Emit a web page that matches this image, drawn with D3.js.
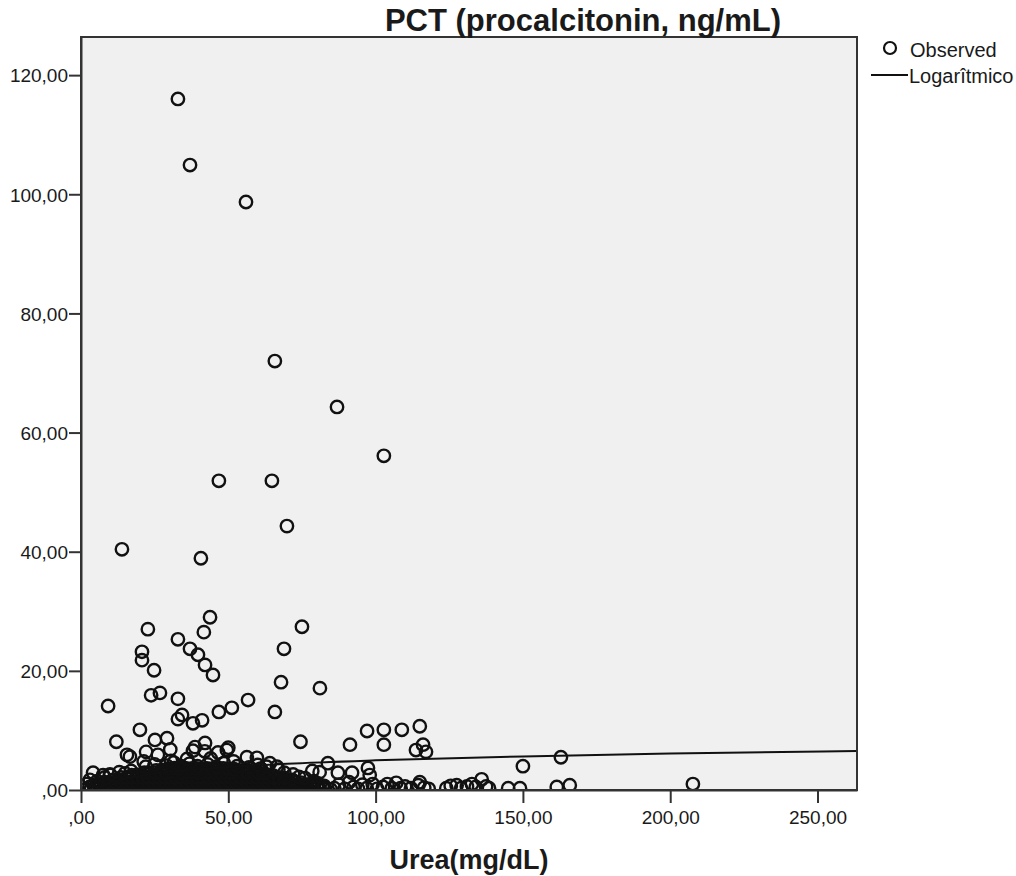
<!DOCTYPE html>
<html>
<head>
<meta charset="utf-8">
<script src="https://cdn.jsdelivr.net/npm/d3@7"></script>
<style>
  html, body { margin: 0; padding: 0; background: #fff; }
  svg { display: block; }
  text { font-family: "Liberation Sans", Arial, sans-serif; fill: #1a1a1a; }
</style>
</head>
<body>
<svg id="chart" width="1016" height="876"></svg>
<script>
// ---------------- DATA ----------------
const chartTitle = "PCT (procalcitonin, ng/mL)";
const xTitle = "Urea(mg/dL)";
const legendLabels = ["Observed", "Logarîtmico"];

const xTickValues = [0, 50, 100, 150, 200, 250];
const xTickLabels = [",00", "50,00", "100,00", "150,00", "200,00", "250,00"];
const yTickValues = [0, 20, 40, 60, 80, 100, 120];
const yTickLabels = [",00", "20,00", "40,00", "60,00", "80,00", "100,00", "120,00"];

// Observed points [urea, pct] — high values
const outlierPoints = [
  [32.9,116.0],[37.0,104.9],[56.0,98.7],[65.8,72.0],[86.9,64.3],[102.8,56.1],
  [46.8,51.9],[64.8,51.9],[69.9,44.3],[13.9,40.4],[40.7,38.9],[43.8,29.0],
  [22.7,27.0],[75.0,27.4],[41.7,26.5],[32.9,25.3],[20.7,23.2],[37.0,23.7],
  [68.9,23.7],[20.7,21.8],[39.7,22.7],[42.1,21.0],[24.8,20.1],[44.8,19.3],
  [26.8,16.3],[23.8,15.9],[32.9,15.3],[56.7,15.1],[67.9,18.1],[81.1,17.1],
  [9.2,14.1],[34.3,12.6],[32.9,11.9],[38.0,11.2],[41.1,11.7],[46.8,13.1],
  [51.2,13.8],[65.8,13.1],[20.0,10.1],[12.0,8.1],[74.5,8.1],[91.3,7.6],
  [97.1,9.9],[102.8,10.1],[102.8,7.6],[108.9,10.1],[115.0,10.7],[113.7,6.7],
  [116.1,7.6],[117.1,6.4]
];

// Observed points — moderate values above the dense mass
const midPoints = [
  [15.6,5.9],[16.6,5.6],[22.1,6.4],[25.1,8.4],[29.2,8.7],[30.3,6.8],[26.1,5.9],
  [38.7,7.2],[38.0,6.6],[42.1,7.9],[42.0,6.5],[46.5,6.3],[49.5,6.7],[50.0,7.1],
  [56.3,5.5],[59.7,5.4],[64.1,4.5],[66.5,3.9],[83.8,4.5],[81.0,3.0],[87.2,2.9],
  [92.0,2.9],[97.4,3.7],[98.0,2.5],[78.5,3.2],
  [22,3.9],[25,4.3],[29,4.1],[31.5,4.6],[34,4.0],[36.8,4.4],[39.5,4.0],[43,4.3],
  [46,3.9],[48.5,4.5],[53,4.0],[57,3.8],[61,3.6],[21.3,4.8],[30.5,4.9],[36,5.2],
  [44,5.3],[51.8,4.8],[60,4.2],[63,3.9],[67,3.4],[69,2.9],[72,2.6],[74,2.2],
  [76,2.0],[79,1.5],[80.5,1.1],[82.5,0.7],[8,2.1],[10,2.5],[4.1,2.9],[7.5,2.5],
  [9.8,2.6],[2.0,1.0],[3.0,1.7],[5.5,1.5],[15,2.8],[17,3.2],[13,3.0]
];

// Observed points — dense mass of low values (first set)
const densePoints = [
  [1.5,0.12],[3.35,0.08],[5.2,0.15],[7.05,0.1],[8.9,0.05],[10.75,0.14],[12.6,0.1],[14.45,0.18],
  [16.3,0.06],[18.15,0.12],[20.0,0.1],[21.85,0.16],[23.7,0.08],[25.55,0.12],[27.4,0.05],
  [29.25,0.15],[31.1,0.1],[32.95,0.18],[34.8,0.08],[36.65,0.12],[38.5,0.1],[40.35,0.15],
  [42.2,0.06],[44.05,0.12],[45.9,0.18],[47.75,0.1],[49.6,0.08],[51.45,0.15],[53.3,0.1],
  [55.15,0.12],[57.0,0.06],[58.85,0.16],[60.7,0.1],[62.55,0.12],[64.4,0.08],[66.25,0.15],
  [68.1,0.1],[69.95,0.05],[71.8,0.14],[73.65,0.1],[75.5,0.18],[77.35,0.08],[79.2,0.12],
  [81.05,0.1],[82.9,0.15],[84.75,0.08],
  [4.25,0.85],[6.1,0.9],[7.95,0.95],[9.8,0.85],[11.65,0.9],[13.5,0.95],[15.35,0.85],
  [17.2,0.92],[19.05,0.88],[20.9,0.95],[22.75,0.85],[24.6,0.9],[26.45,0.95],[28.3,0.88],
  [30.15,0.92],[32.0,0.85],[33.85,0.95],[35.7,0.9],[37.55,0.88],[39.4,0.94],[41.25,0.85],
  [43.1,0.9],[44.95,0.95],[46.8,0.86],[48.65,0.92],[50.5,0.9],[52.35,0.85],[54.2,0.95],
  [56.05,0.88],[57.9,0.9],[59.75,0.94],[61.6,0.85],[63.45,0.9],[65.3,0.95],[67.15,0.86],
  [69.0,0.92],[70.85,0.9],[72.7,0.85],[74.55,0.95],[76.4,0.88],[78.25,0.9],[80.1,0.85],
  [10.75,1.68],[12.6,1.72],[14.45,1.65],[16.3,1.75],[18.15,1.7],[20.0,1.66],[21.85,1.74],
  [23.7,1.7],[25.55,1.68],[27.4,1.75],[29.25,1.65],[31.1,1.72],[32.95,1.7],[34.8,1.74],
  [36.65,1.66],[38.5,1.7],[40.35,1.75],[42.2,1.68],[44.05,1.72],[45.9,1.65],[47.75,1.7],
  [49.6,1.74],[51.45,1.68],[53.3,1.72],[55.15,1.7],[57.0,1.65],[58.85,1.75],[60.7,1.7],
  [62.55,1.68],[64.4,1.72],[66.25,1.7],[68.1,1.66],[69.95,1.72],[71.8,1.68],
  [17.2,2.48],[19.05,2.52],[20.9,2.45],[22.75,2.55],[24.6,2.5],[26.45,2.46],[28.3,2.54],
  [30.15,2.5],[32.0,2.48],[33.85,2.55],[35.7,2.45],[37.55,2.52],[39.4,2.5],[41.25,2.54],
  [43.1,2.46],[44.95,2.5],[46.8,2.55],[48.65,2.48],[50.5,2.52],[52.35,2.45],[54.2,2.5],
  [56.05,2.54],[57.9,2.48],[59.75,2.52],[61.6,2.5],[63.45,2.46],[65.3,2.4],
  [25.55,3.28],[27.4,3.32],[29.25,3.25],[31.1,3.35],[32.95,3.3],[34.8,3.26],[36.65,3.34],
  [38.5,3.3],[40.35,3.28],[42.2,3.35],[44.05,3.25],[45.9,3.32],[47.75,3.3],[49.6,3.34],
  [51.45,3.26],[53.3,3.3],[55.15,3.28],[57.0,3.22]
];

// Observed points — dense mass of low values (second set)
const densePoints2 = [
  [2.9,0.5],[4.75,0.48],[6.6,0.52],[8.45,0.5],[10.3,0.46],[12.15,0.54],[14.0,0.5],[15.85,0.48],
  [17.7,0.52],[19.55,0.5],[21.4,0.46],[23.25,0.54],[25.1,0.5],[26.95,0.48],[28.8,0.52],
  [30.65,0.5],[32.5,0.46],[34.35,0.54],[36.2,0.5],[38.05,0.48],[39.9,0.52],[41.75,0.5],
  [43.6,0.46],[45.45,0.54],[47.3,0.5],[49.15,0.48],[51.0,0.52],[52.85,0.5],[54.7,0.46],
  [56.55,0.54],[58.4,0.5],[60.25,0.48],[62.1,0.52],[63.95,0.5],[65.8,0.46],[67.65,0.54],
  [69.5,0.5],[71.35,0.48],[73.2,0.52],[75.05,0.5],[76.9,0.46],[78.75,0.54],[80.6,0.5],[82.45,0.45],
  [8.0,1.3],[9.85,1.28],[11.7,1.32],[13.55,1.3],[15.4,1.26],[17.25,1.34],[19.1,1.3],[20.95,1.28],
  [22.8,1.32],[24.65,1.3],[26.5,1.26],[28.35,1.34],[30.2,1.3],[32.05,1.28],[33.9,1.32],
  [35.75,1.3],[37.6,1.26],[39.45,1.34],[41.3,1.3],[43.15,1.28],[45.0,1.32],[46.85,1.3],
  [48.7,1.26],[50.55,1.34],[52.4,1.3],[54.25,1.28],[56.1,1.32],[57.95,1.3],[59.8,1.26],
  [61.65,1.34],[63.5,1.3],[65.35,1.28],[67.2,1.32],[69.05,1.3],[70.9,1.26],[72.75,1.3],[74.6,1.25],
  [13.6,2.1],[15.45,2.08],[17.3,2.12],[19.15,2.1],[21.0,2.06],[22.85,2.14],[24.7,2.1],
  [26.55,2.08],[28.4,2.12],[30.25,2.1],[32.1,2.06],[33.95,2.14],[35.8,2.1],[37.65,2.08],
  [39.5,2.12],[41.35,2.1],[43.2,2.06],[45.05,2.14],[46.9,2.1],[48.75,2.08],[50.6,2.12],
  [52.45,2.1],[54.3,2.06],[56.15,2.14],[58.0,2.1],[59.85,2.08],[61.7,2.12],[63.55,2.1],
  [65.4,2.06],[67.25,2.05],[69.1,2.0],
  [21.5,2.9],[23.35,2.88],[25.2,2.92],[27.05,2.9],[28.9,2.86],[30.75,2.94],[32.6,2.9],
  [34.45,2.88],[36.3,2.92],[38.15,2.9],[40.0,2.86],[41.85,2.94],[43.7,2.9],[45.55,2.88],
  [47.4,2.92],[49.25,2.9],[51.1,2.86],[52.95,2.94],[54.8,2.9],[56.65,2.88],[58.5,2.92],
  [60.35,2.85],[62.2,2.8],
  [29.8,3.6],[31.65,3.65],[33.5,3.58],[35.35,3.66],[37.2,3.6],[39.05,3.62],[40.9,3.58],
  [42.75,3.64],[44.6,3.6],[46.45,3.58],[48.3,3.62],[50.15,3.55],[52.0,3.5]
];

// Observed points — sparse low values at higher urea
const sparsePoints = [
  [86,0.3],[87.5,0.9],[89.5,0.2],[91,1.3],[92.5,0.5],[94,0.2],[95.5,0.9],[97,0.3],
  [99,1.0],[100.5,0.2],[102.5,0.5],[104,1.0],[105.5,0.3],[107,1.2],[108.5,0.3],[110,0.6],
  [112,0.3],[114.5,0.8],[115,1.3],[116.5,0.4],[118,0.2],[124,0.3],[125.5,0.7],[127.5,0.8],
  [129,0.3],[131,0.6],[132.7,1.0],[134,0.5],[136,1.8],[137.5,0.6],[138.5,0.3],[145,0.3],
  [149,0.3],[150,4.0],[161.5,0.5],[162.9,5.5],[165.9,0.8],[207.7,1.0]
];

// Logarithmic fit curve
const fitUrea = [5, 10, 20, 40, 70, 100, 150, 200, 263.4];
const fitPct  = [0.09, 1.22, 2.35, 3.48, 4.40, 4.98, 5.64, 6.11, 6.55];

// ---------------- CHART ----------------
const svg = d3.select("#chart");
const M = { left: 81, top: 37, right: 857, bottom: 790 };

const x = d3.scaleLinear().domain([0, 263.4]).range([M.left, M.right]);
const y = d3.scaleLinear().domain([0, 126.4]).range([M.bottom, M.top]);

svg.append("rect")
  .attr("x", M.left).attr("y", M.top)
  .attr("width", M.right - M.left).attr("height", M.bottom - M.top)
  .attr("fill", "#f0f0f0");

const clip = svg.append("defs").append("clipPath").attr("id", "plotclip");
clip.append("rect").attr("x", M.left).attr("y", M.top)
  .attr("width", M.right - M.left).attr("height", M.bottom - M.top);

const plot = svg.append("g").attr("clip-path", "url(#plotclip)");

const allPoints = densePoints.concat(densePoints2, sparsePoints, midPoints, outlierPoints);
plot.selectAll("circle.obs").data(allPoints).enter().append("circle")
  .attr("class", "obs")
  .attr("cx", d => x(d[0]))
  .attr("cy", d => y(d[1]))
  .attr("r", 6.2)
  .attr("fill", "none")
  .attr("stroke", "#111")
  .attr("stroke-width", 2.4);

const fitData = fitUrea.map((u, i) => [u, fitPct[i]]);
plot.append("path")
  .datum(fitData)
  .attr("fill", "none")
  .attr("stroke", "#111")
  .attr("stroke-width", 2)
  .attr("d", d3.line().x(d => x(d[0])).y(d => y(d[1])).curve(d3.curveMonotoneX));

svg.append("rect")
  .attr("x", M.left).attr("y", M.top)
  .attr("width", M.right - M.left).attr("height", M.bottom - M.top)
  .attr("fill", "none").attr("stroke", "#333").attr("stroke-width", 2);

const xAxis = d3.axisBottom(x).tickValues(xTickValues)
  .tickFormat((d, i) => xTickLabels[i]).tickSize(13).tickSizeOuter(0);
const yAxis = d3.axisLeft(y).tickValues(yTickValues)
  .tickFormat((d, i) => yTickLabels[i]).tickSize(12).tickSizeOuter(0);

const gx = svg.append("g").attr("transform", `translate(0,${M.bottom})`).call(xAxis);
const gy = svg.append("g").attr("transform", `translate(${M.left},0)`).call(yAxis);
[gx, gy].forEach(g => {
  g.select(".domain").attr("stroke", "#333").attr("stroke-width", 2);
  g.selectAll(".tick line").attr("stroke", "#333").attr("stroke-width", 2);
  g.selectAll(".tick text")
    .attr("fill", "#1a1a1a")
    .style("font-family", '"Liberation Sans", Arial, sans-serif')
    .style("font-size", "19px");
});
gx.selectAll(".tick text").attr("dy", "0.95em");
gy.selectAll(".tick text").attr("x", -13).attr("dy", "0.36em");

svg.append("text")
  .attr("x", 583).attr("y", 31)
  .attr("text-anchor", "middle")
  .style("font-size", "31px").style("font-weight", "bold")
  .text(chartTitle);

svg.append("text")
  .attr("x", 469).attr("y", 869)
  .attr("text-anchor", "middle")
  .style("font-size", "27px").style("font-weight", "bold")
  .text(xTitle);

const lg = svg.append("g");
lg.append("circle").attr("cx", 890).attr("cy", 48).attr("r", 6)
  .attr("fill", "none").attr("stroke", "#111").attr("stroke-width", 2.2);
lg.append("text").attr("x", 910).attr("y", 57)
  .style("font-size", "20px").text(legendLabels[0]);
lg.append("line").attr("x1", 871).attr("x2", 908).attr("y1", 75).attr("y2", 75)
  .attr("stroke", "#111").attr("stroke-width", 2);
lg.append("text").attr("x", 909).attr("y", 83)
  .style("font-size", "20px").text(legendLabels[1]);
</script>
</body>
</html>
